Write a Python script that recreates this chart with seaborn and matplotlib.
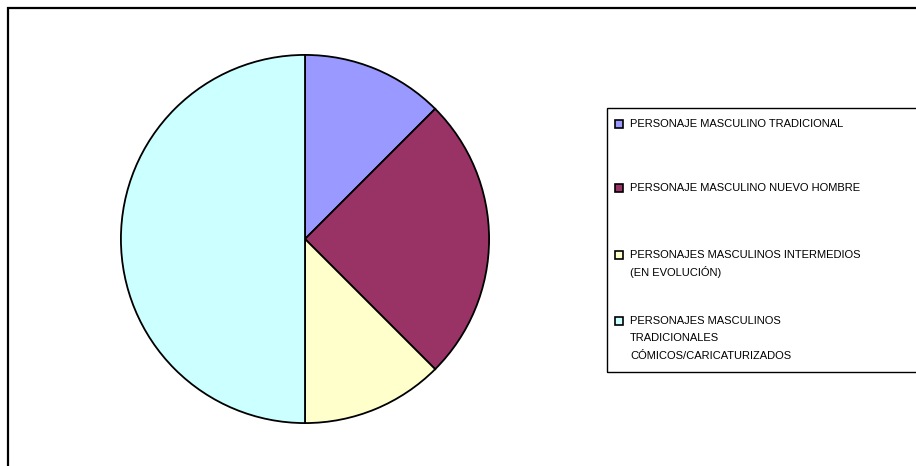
import matplotlib
matplotlib.use("Agg")
import matplotlib.pyplot as plt
import seaborn as sns
from matplotlib.patches import Rectangle

# datos (proporciones de cada tipo de personaje)
categorias = [
    "PERSONAJE MASCULINO TRADICIONAL",
    "PERSONAJE MASCULINO NUEVO HOMBRE",
    "PERSONAJES MASCULINOS INTERMEDIOS\n(EN EVOLUCIÓN)",
    "PERSONAJES MASCULINOS\nTRADICIONALES\nCÓMICOS/CARICATURIZADOS",
]
valores = [1, 2, 1, 4]
colores = sns.color_palette(["#9999FF", "#993366", "#FFFFCC", "#CCFFFF"])

sns.set_theme(style="white")
plt.rcParams['font.family'] = ['Liberation Sans', 'DejaVu Sans']

W, H = 916, 466
fig = plt.figure(figsize=(W / 100, H / 100), dpi=100)


def px(x, y):
    # pixel (desde arriba a la izquierda) -> coordenadas de figura
    return x / W, 1 - y / H


# marco exterior del área del gráfico
fig.patches.append(Rectangle((8 / W, -0.1), 1.2, 1 - 8 / H + 0.1,
                             transform=fig.transFigure, fill=False,
                             edgecolor="black", linewidth=1.6))

# pastel
cx, cy, r = 305, H - 239, 185
ax = fig.add_axes([(cx - r) / W, (cy - r) / H, 2 * r / W, 2 * r / H])
ax.pie(valores, colors=colores, startangle=90, counterclock=False,
       wedgeprops=dict(edgecolor="black", linewidth=1.3))
ax.set_xlim(-1.005, 1.005)
ax.set_ylim(-1.005, 1.005)
ax.set_aspect("equal")
ax.axis("off")

# leyenda dibujada a mano (caja, cuadros de color y textos)
fig.patches.append(Rectangle(px(607, 372), 0.5, (372 - 107.5) / H,
                             transform=fig.transFigure, fill=False,
                             edgecolor="black", linewidth=1.0))

# altura de la parte superior de las mayúsculas de la primera línea
tope_mayus = [119.5, 183.5, 250, 316]
interlineado = [1.95, 1.95, 1.65, 1.95]
for lab, col, yt, ls in zip(categorias, colores, tope_mayus, interlineado):
    fig.patches.append(Rectangle(px(615, yt + 8.5), 8 / W, 8 / H,
                                 transform=fig.transFigure, facecolor=col,
                                 edgecolor="black", linewidth=1.2))
    x, y = px(630, yt - 0.5)
    fig.text(x, y, lab, fontsize=8, color="black", va="top",
             ha="left", linespacing=ls)

fig.savefig("out.png", dpi=100)
